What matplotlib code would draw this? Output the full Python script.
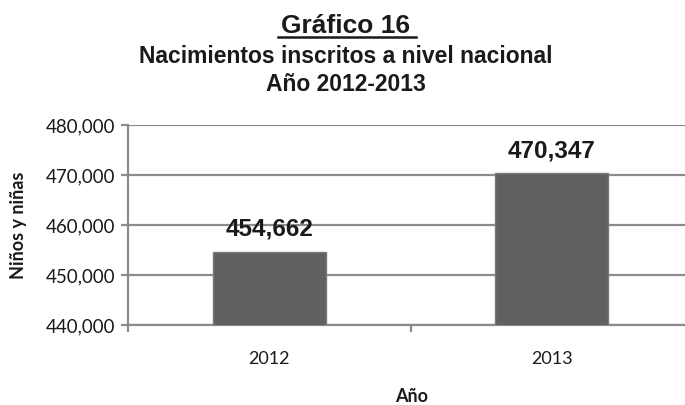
import matplotlib
matplotlib.use("Agg")
import matplotlib.pyplot as plt
from matplotlib.ticker import FuncFormatter, FixedLocator

years = ["2012", "2013"]
births = [454662, 470347]
y_ticks = [440000, 450000, 460000, 470000, 480000]

_BAR = "#606060"
_GRID = "#8c8c8c"
_TEXT = "#1a1a1a"
_BODY_FONT = "Lato"
_TITLE_FONT = "Liberation Sans"
_H = 405

fig = plt.figure(figsize=(6.85, 4.05), dpi=100)
fig.patch.set_facecolor("white")

# plot area runs a little past the right edge, like the cropped original
ax = fig.add_axes([0.187, 0.1975, 0.825, 0.4935])

x = range(len(years))
ax.bar(x, births, width=0.4, color=_BAR, edgecolor="#7a7a7a", linewidth=1.0, zorder=3)

ax.set_xlim(-0.5, len(years) - 0.5)
ax.set_ylim(y_ticks[0], y_ticks[-1])
ax.set_yticks(y_ticks)
ax.yaxis.set_major_formatter(FuncFormatter(lambda v, _: f"{int(v):,}"))
ax.grid(axis="y", color=_GRID, linewidth=1.6, zorder=0)

ax.set_xticks(list(x))
ax.set_xticklabels(years, fontfamily=_BODY_FONT, fontsize=13, color=_TEXT)
ax.xaxis.set_minor_locator(FixedLocator([-0.5, 0.5, 1.5]))
ax.tick_params(axis="x", which="major", length=0, pad=19)
ax.tick_params(axis="x", which="minor", length=5, width=1.6, color=_GRID)
ax.tick_params(axis="y", length=5, width=1.6, color=_GRID, pad=4,
               labelsize=13.5, labelcolor=_TEXT)
for lbl in ax.get_yticklabels():
    lbl.set_fontfamily(_BODY_FONT)

for side in ("top", "right"):
    ax.spines[side].set_visible(False)
for side in ("left", "bottom"):
    ax.spines[side].set_color(_GRID)
    ax.spines[side].set_linewidth(1.6)

ax.set_ylabel("Niños y niñas", fontfamily=_BODY_FONT, fontweight="bold",
              fontsize=13, color=_TEXT, labelpad=14)
# axis title sits right at the bottom edge
fig.text(412 / 685, 1 - 397 / _H, "Año", ha="center", va="center",
         fontfamily=_BODY_FONT, fontweight="bold", fontsize=13, color=_TEXT)

for xi, v in zip(x, births):
    ax.annotate(f"{v:,}", (xi, v), xytext=(0, 8), textcoords="offset points",
                ha="center", va="bottom", fontfamily=_TITLE_FONT,
                fontweight="bold", fontsize=17.5, color=_TEXT)

cx = 346 / 685
fig.text(cx, 1 - 33 / _H, "Gráfico 16", ha="center", va="baseline",
         fontfamily=_TITLE_FONT, fontweight="bold", fontsize=19, color=_TEXT)
# underline under the main heading
fig.add_artist(plt.Line2D([278 / 685, 416 / 685], [1 - 37 / _H] * 2,
                          color=_TEXT, linewidth=1.8))
fig.text(cx, 1 - 63 / _H, "Nacimientos inscritos a nivel nacional",
         ha="center", va="baseline", fontfamily=_TITLE_FONT,
         fontweight="bold", fontsize=16.5, color=_TEXT)
fig.text(cx, 1 - 91 / _H, "Año 2012-2013", ha="center", va="baseline",
         fontfamily=_TITLE_FONT, fontweight="bold", fontsize=16.5, color=_TEXT)

fig.savefig("out.png", dpi=100, facecolor="white")
